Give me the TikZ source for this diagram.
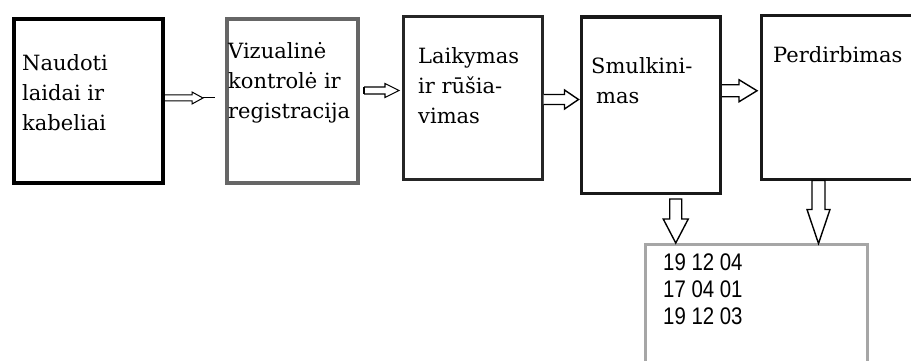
\documentclass[tikz,border=0pt]{standalone}
\usepackage{fontspec}
\setmainfont{DejaVu Serif}
\newfontfamily\digitfont{Liberation Sans}
\usepackage{graphicx}
\usetikzlibrary{calc}
% horizontal hollow arrow: start, shaft length, shaft half, head half, head length
\newcommand\harrow[6][]{%
  \draw[arr,#1] (#2) ++(0,-#4) -- ++(#3,0) -- ++(0,#4-#5) -- ++(#6,#5)
    -- ++(-#6,#5) -- ++(0,#4-#5) -- ++(-#3,0);}
% vertical hollow arrow (downwards)
\newcommand\varrow[6][]{%
  \draw[arr,#1] (#2) ++(-#4,0) -- ++(0,#3) -- ++(#4-#5,0) -- ++(#5,#6)
    -- ++(#5,-#6) -- ++(#4-#5,0) -- ++(0,-#3) -- cycle;}
\begin{document}
\begin{tikzpicture}[x=1pt,y=-1pt,
  box/.style={draw, rectangle, inner sep=0pt, anchor=north west, fill=white},
  lbl/.style={anchor=north west, inner sep=0pt, align=left,
    font=\fontsize{21}{30}\selectfont},
  dig/.style={anchor=north west, inner sep=0pt, align=left,
    font=\digitfont\fontsize{24}{27}\selectfont},
  arr/.style={draw=black, line width=1.4pt, fill=white, line join=miter}]
\useasboundingbox[fill=white] (0,0) rectangle (911,361);

% boxes
\node[box, line width=4pt, minimum width=149pt, minimum height=164pt] (b1) at (12,17) {};
\node[box, line width=4pt, draw=black!60, minimum width=131pt, minimum height=164pt] (b2) at (225,17) {};
\node[box, line width=3pt, draw=black!85, minimum width=139pt, minimum height=162pt] (b3) at (401.5,15.5) {};
\node[box, line width=3.5pt, draw=black!90, minimum width=139pt, minimum height=176pt] (b4) at (579.5,15.5) {};
\node[box, line width=3pt, draw=black!90, minimum width=180pt, minimum height=163pt] (b5) at (759.5,14.5) {};
\node[box, line width=3pt, draw=black!35, minimum width=222pt, minimum height=150pt] (b6) at (643.5,242.5) {};

% texts
\node[lbl] (t1) at (22,54) {Naudoti\\laidai ir\\kabeliai};
\node[lbl] (t2) at (228,42) {Vizualinė\\kontrolė ir\\registracija};
\node[lbl] (t3) at (418,47) {Laikymas\\ir rūšia-\\vimas};
\node[lbl] (t4) at (591,57) {Smulkini-\\\hspace{5pt}mas};
\node[lbl] (t5) at (773,46) {Perdirbimas};
\node[dig] (t6) at (663,254) {\scalebox{0.85}[1]{19 12 04}\\\scalebox{0.85}[1]{17 04 01}\\\scalebox{0.85}[1]{19 12 03}};

% arrow 1 (pencil-like)
\coordinate (a1) at ($(b1.east)+(0,-3)$);
\draw[arr, line width=1pt] (a1) ++(0,-3) -- ++(27,0) -- ++(0,-3) -- ++(11,6)
   -- ++(-11,6) -- ++(0,-3) -- ++(-27,0);
\draw[line width=1pt] ($(a1)+(38,0)$) coordinate (a1t) -- ($(b2.west)+(-10,-3)$);

% arrow 2
\harrow[line width=1.1pt]{$(b2.east)+(4,-10.5)$}{21}{3.5}{7}{14}
\draw[arr, line width=1.1pt] ($(b2.east)+(4,-14)$) -- ++(0,7);

% arrow 3
\harrow{$(b3.east)+(0,1.5)$}{21}{5}{9.5}{14}
% arrow 4
\harrow{$(b4.east)+(0,-14.5)$}{17}{6}{11}{18}

% down arrows
\varrow{$(b4.south)+(25,4)$}{20}{6}{12.5}{24}
\varrow{$(b5.south)+(-32.5,0)$}{29}{6.5}{11.5}{34}
\end{tikzpicture}
\end{document}
